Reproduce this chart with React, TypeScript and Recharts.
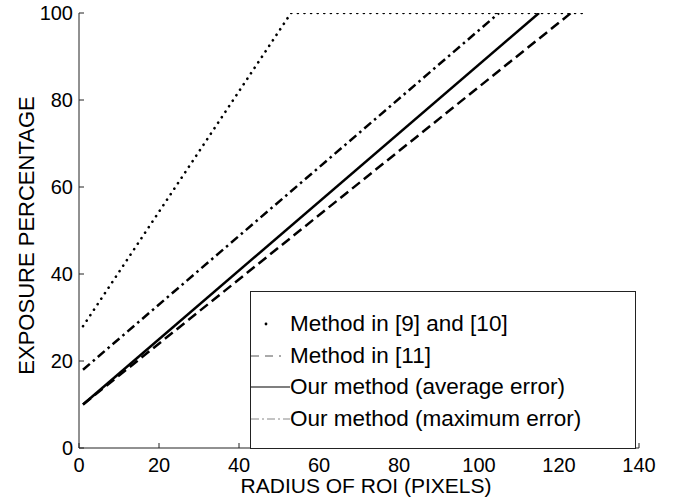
import React from 'react';
import { LineChart, Line, XAxis, YAxis, Legend } from 'recharts';

// Radius of ROI (pixels) and exposure percentage
const method910R = [1, 53, 127];
const method910E = [28, 100, 100];
const method11R = [1, 123];
const method11E = [10, 100];
const oursAvgR = [1, 115];
const oursAvgE = [10, 100];
const oursMaxR = [1, 105];
const oursMaxE = [18, 100];

const xTicks = [0, 20, 40, 60, 80, 100, 120, 140];
const yTicks = [0, 20, 40, 60, 80, 100];

const seriesNames = [
  'Method in [9] and [10]',
  'Method in [11]',
  'Our method (average error)',
  'Our method (maximum error)',
];

const toData = (rs: number[], es: number[]) => rs.map((r, i) => ({ r, e: es[i] }));

const FONT = '"Liberation Sans", Arial, Helvetica, sans-serif';
const FRAME = '#222';

const series = [
  { name: seriesNames[0], data: toData(method910R, method910E), dash: '0.1 6.5', width: 2.6, cap: 'round' as const, legend: 'dot' },
  { name: seriesNames[1], data: toData(method11R, method11E), dash: '10 5', width: 2.5, cap: 'butt' as const, legend: 'dash' },
  { name: seriesNames[2], data: toData(oursAvgR, oursAvgE), dash: undefined, width: 2.5, cap: 'butt' as const, legend: 'solid' },
  { name: seriesNames[3], data: toData(oursMaxR, oursMaxE), dash: '9 4 2.5 4', width: 2.5, cap: 'butt' as const, legend: 'dashdot' },
];

const BottomTick = (props: any) => {
  const { x, y, payload } = props;
  return (
    <g>
      <line x1={x} x2={x} y1={y - 10} y2={y - 15} stroke={FRAME} strokeWidth={1} />
      <text x={x} y={y} dy="0.71em" textAnchor="middle" fontSize={20} fontFamily={FONT} fill="#000">
        {payload.value}
      </text>
    </g>
  );
};

const LeftTick = (props: any) => {
  const { x, y, payload } = props;
  return (
    <g>
      <line x1={x + 6} x2={x + 11} y1={y} y2={y} stroke={FRAME} strokeWidth={1} />
      <text x={x} y={y} dy="0.355em" textAnchor="end" fontSize={20} fontFamily={FONT} fill="#000">
        {payload.value}
      </text>
    </g>
  );
};

const TopTick = (props: any) => {
  const { x, y } = props;
  return <line x1={x} x2={x} y1={y} y2={y + 5} stroke={FRAME} strokeWidth={1} />;
};

const RightTick = (props: any) => {
  const { x, y } = props;
  return <line x1={x - 5} x2={x} y1={y} y2={y} stroke={FRAME} strokeWidth={1} />;
};

const Marker = ({ kind }: { kind: string }) => {
  if (kind === 'dot') return <circle cx={15} cy={11} r={1.4} fill="#000" />;
  if (kind === 'dash')
    return <line x1={0} x2={30} y1={11} y2={11} stroke="#555" strokeWidth={1} strokeDasharray="8 6" />;
  if (kind === 'solid') return <line x1={0} x2={39} y1={11} y2={11} stroke="#000" strokeWidth={1.2} />;
  return <line x1={0} x2={39} y1={11} y2={11} stroke="#888" strokeWidth={1} strokeDasharray="8 3 2 3" />;
};

const LegendBox = () => (
  <div
    style={{
      width: 386,
      height: 158,
      border: `1px solid ${FRAME}`,
      background: '#fff',
      boxSizing: 'border-box',
      paddingTop: 16,
      fontFamily: FONT,
    }}
  >
    {series.map((s) => (
      <div key={s.name} style={{ display: 'flex', alignItems: 'center', height: 31.7 }}>
        <svg width={39} height={22} style={{ display: 'block' }}>
          <Marker kind={s.legend} />
        </svg>
        <span style={{ fontSize: 22.5, color: '#000', marginLeft: 0, lineHeight: '22px', whiteSpace: 'nowrap' }}>{s.name}</span>
      </div>
    ))}
  </div>
);

export default function App() {
  return (
    <div style={{ position: 'absolute', left: 0, top: 0 }}>
      <LineChart width={679} height={502} margin={{ top: 13, right: 40, left: 0, bottom: 0 }}>
        <XAxis
          dataKey="r"
          type="number"
          domain={[0, 140]}
          ticks={xTicks}
          height={54}
          tickSize={0}
          tickMargin={10}
          tickLine={false}
          axisLine={{ stroke: FRAME, strokeWidth: 1 }}
          tick={<BottomTick />}
          allowDataOverflow
          label={{ value: 'RADIUS OF ROI (PIXELS)', position: 'insideBottom', offset: 9, dx: 7, fontSize: 21, fontFamily: FONT, fill: '#000' }}
        />
        <XAxis
          xAxisId="top"
          orientation="top"
          dataKey="r"
          type="number"
          domain={[0, 140]}
          ticks={xTicks}
          height={0}
          tickSize={0}
          tickMargin={0}
          tickLine={false}
          axisLine={{ stroke: FRAME, strokeWidth: 1 }}
          tick={<TopTick />}
          allowDataOverflow
        />
        <YAxis
          type="number"
          domain={[0, 100]}
          ticks={yTicks}
          width={79}
          tickSize={0}
          tickMargin={6}
          tickLine={false}
          axisLine={{ stroke: FRAME, strokeWidth: 1 }}
          tick={<LeftTick />}
          allowDataOverflow
          label={{ value: 'EXPOSURE PERCENTAGE', angle: -90, position: 'center', dx: -13, dy: 5, fontSize: 22, fontFamily: FONT, fill: '#000' }}
        />
        <YAxis
          yAxisId="right"
          orientation="right"
          type="number"
          domain={[0, 100]}
          ticks={yTicks}
          width={0}
          tickSize={0}
          tickMargin={0}
          tickLine={false}
          axisLine={{ stroke: FRAME, strokeWidth: 1 }}
          tick={<RightTick />}
          allowDataOverflow
        />
        {series.map((s) => (
          <Line
            key={s.name}
            name={s.name}
            data={s.data}
            dataKey="e"
            type="linear"
            stroke="#000"
            strokeWidth={s.width}
            strokeDasharray={s.dash}
            strokeLinecap={s.cap}
            dot={false}
            activeDot={false}
            isAnimationActive={false}
          />
        ))}
        <Legend
          layout="vertical"
          align="center"
          verticalAlign="middle"
          content={<LegendBox />}
          wrapperStyle={{ left: 250, top: 291, width: 386, height: 158 }}
        />
      </LineChart>
    </div>
  );
}
